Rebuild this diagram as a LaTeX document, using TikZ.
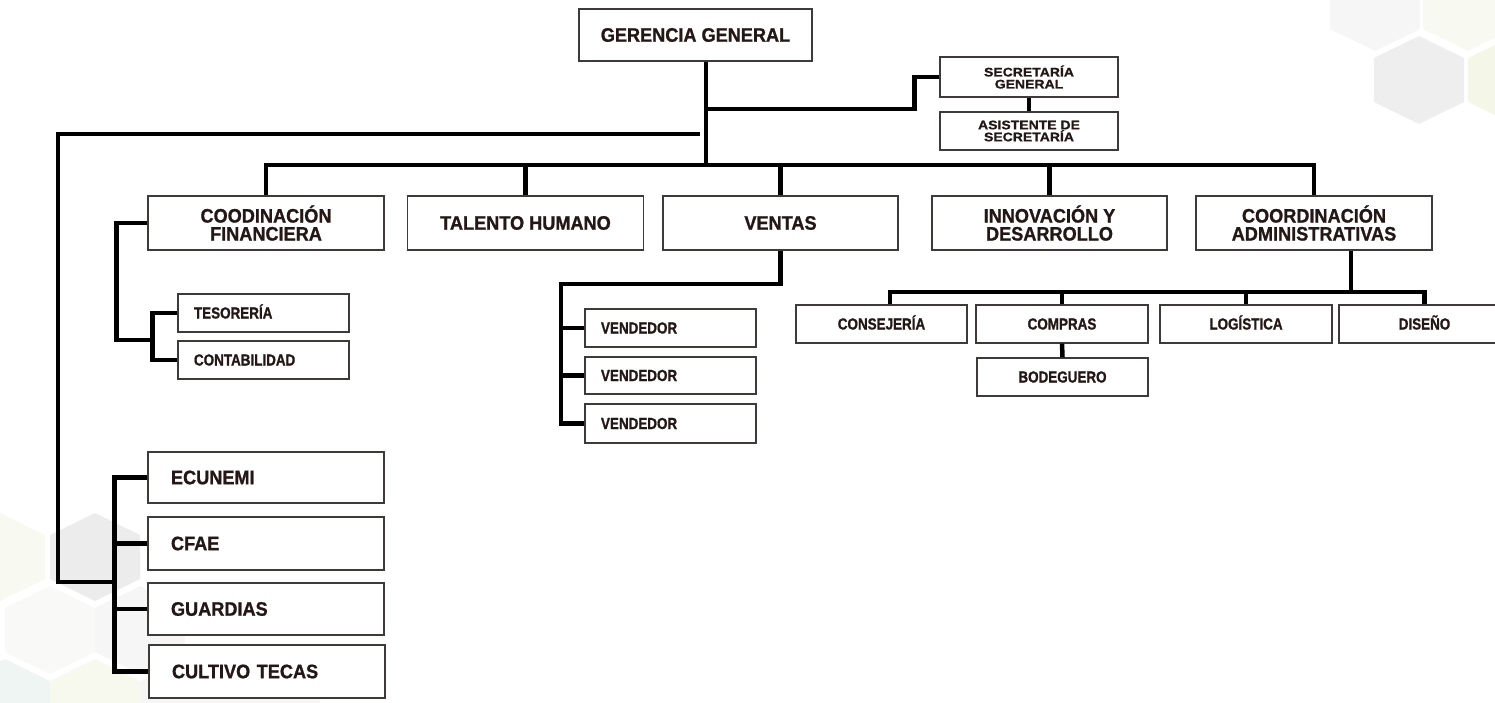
\documentclass[tikz,border=0pt]{standalone}
\usepackage{fontspec}
\setmainfont{Liberation Sans}
\newfontfamily\bigf{Liberation Sans}[FakeStretch=0.93, BoldFeatures={FakeBold=1}]
\newfontfamily\smf{Liberation Sans}[FakeStretch=0.84, BoldFeatures={FakeBold=1}]
\newfontfamily\secf{Liberation Sans}[FakeStretch=1.12, BoldFeatures={FakeBold=0.8}]
\definecolor{txt}{HTML}{231815}
\definecolor{boxc}{HTML}{3E3A39}
\definecolor{hxa}{HTML}{F6F6F6}
\definecolor{hxb}{HTML}{F8F9F1}
\definecolor{hxc}{HTML}{EEEEEE}
\definecolor{hxd}{HTML}{F4F6E7}
\definecolor{hxe}{HTML}{ECECEC}
\definecolor{hxf}{HTML}{EEF5F3}
\definecolor{hxg}{HTML}{F8F9EE}
\definecolor{hxh}{HTML}{F9F9F7}
\newcommand\myhex[3]{\fill[#3] (#1,#2-44) -- (#1+45,#2-22) -- (#1+45,#2+22) -- (#1,#2+44) -- (#1-45,#2+22) -- (#1-45,#2-22) -- cycle;}
\tikzset{
  box/.style={draw=boxc, line width=1.3pt, fill=white, text=txt, inner sep=0pt},
  bigone/.style={box, font=\bigf\bfseries\fontsize{19.5}{18}\selectfont, text height=13.4pt, text depth=0pt},
  bigtwo/.style={box, font=\bigf\bfseries\fontsize{19.5}{18}\selectfont, align=center},
  leftbig/.style={bigone, text width=190pt, align=left},
  smallc/.style={box, font=\smf\bfseries\fontsize{16}{16}\selectfont, text height=11pt, text depth=0pt},
  smalll/.style={smallc, text width=139pt, align=left},
  sectwo/.style={box, font=\secf\bfseries\fontsize{12.5}{12}\selectfont, align=center},
  conn/.style={line width=4.5pt, draw=black}
}
\begin{document}
\begin{tikzpicture}[x=1pt,y=-1pt]
\useasboundingbox (0,0) rectangle (1495,702);
\begin{scope}
\clip (0,0) rectangle (1495,702);
\myhex{1375}{7}{hxa}
\myhex{1468}{7}{hxb}
\myhex{1419}{80}{hxc}
\myhex{1513}{80}{hxd}
\myhex{0}{557}{hxb}
\myhex{95}{557}{hxe}
\myhex{50}{630}{hxh}
\myhex{140}{630}{hxa}
\myhex{5}{703}{hxf}
\myhex{95}{703}{hxg}
\myhex{185}{703}{hxa}
\myhex{275}{703}{hxa}
\end{scope}

% nodes
\node[bigone, minimum width=233pt, minimum height=52pt] (ger) at (695.5,35) {GERENCIA GENERAL};
\node[sectwo, minimum width=178pt, minimum height=40pt] (sec) at (1029,77) {SECRETARÍA\\GENERAL};
\node[sectwo, minimum width=178pt, minimum height=38pt] (asi) at (1029,131) {ASISTENTE DE\\SECRETARÍA};

\node[bigtwo, minimum width=236pt, minimum height=54pt] (cf) at (266,223) {COODINACIÓN\\FINANCIERA};
\node[bigone, minimum width=236pt, minimum height=54pt] (th) at (525.5,223) {TALENTO HUMANO};
\node[bigone, minimum width=235pt, minimum height=54pt] (ve) at (780.5,223) {VENTAS};
\node[bigtwo, minimum width=235pt, minimum height=54pt] (inn) at (1049.5,223) {INNOVACIÓN Y\\DESARROLLO};
\node[bigtwo, minimum width=236pt, minimum height=54pt] (ca) at (1314,223) {COORDINACIÓN\\ADMINISTRATIVAS};

\node[smalll, minimum width=171pt, minimum height=38pt] (tes) at (263.5,313) {TESORERÍA};
\node[smalll, minimum width=171pt, minimum height=38pt] (con) at (263.5,360) {CONTABILIDAD};

\node[smalll, minimum width=171pt, minimum height=38pt] (v1) at (670.5,328) {VENDEDOR};
\node[smalll, minimum width=171pt, minimum height=37pt] (v2) at (670.5,375.5) {VENDEDOR};
\node[smalll, minimum width=171pt, minimum height=39pt] (v3) at (670.5,423.5) {VENDEDOR};

\node[smallc, minimum width=171pt, minimum height=38pt] (cons) at (881.5,324) {CONSEJERÍA};
\node[smallc, minimum width=172pt, minimum height=38pt] (comp) at (1062,324) {COMPRAS};
\node[smallc, minimum width=172pt, minimum height=38pt] (log) at (1246,324) {LOGÍSTICA};
\node[smallc, minimum width=171pt, minimum height=38pt] (dis) at (1424.5,324) {DISEÑO};
\node[smallc, minimum width=171pt, minimum height=38pt] (bod) at (1062.5,377) {BODEGUERO};

\node[leftbig, minimum width=236pt, minimum height=51pt] (ec) at (266,477.5) {ECUNEMI};
\node[leftbig, minimum width=236pt, minimum height=53pt] (cfae) at (266,543.5) {CFAE};
\node[leftbig, minimum width=236pt, minimum height=52pt] (gua) at (266,609) {GUARDIAS};
\node[leftbig, minimum width=236pt, minimum height=53pt] (cul) at (267,671.5) {CULTIVO TECAS};

% connectors
\coordinate (trunkB) at (706,165);
\coordinate (secj) at (706,109);
\coordinate (lft) at (700,134);
\coordinate (lfc) at (58,134);
\coordinate (lfj) at (115,582);
\coordinate (cfj) at (153,340);
\coordinate (vej) at (561,284);
\coordinate (caj) at (1351,292);
\coordinate (busL) at (890,292);

\draw[conn] (ger.south -| trunkB) -- (trunkB);
\draw[conn] (secj) -| ([xshift=-25pt]sec.west) -- (sec.west);
\draw[conn] (sec.south) -- (asi.north);
\draw[conn] (lft) -- (lfc) |- (lfj);

\draw[conn] (cf.north) -- (cf.north |- trunkB) -- (ca.north |- trunkB) -- (ca.north);
\foreach \n in {th,ve,inn} {\draw[conn] (\n.north) -- (\n.north |- trunkB);}

\draw[conn] (cf.west) -- ++(-31,0) |- (cfj);
\draw[conn] (tes.west) -- ++(-25,0) |- (con.west);

\draw[conn] (ve.south) |- (vej) |- (v3.west);
\draw[conn] (v1.west) -- (v1.west -| vej);
\draw[conn] (v2.west) -- (v2.west -| vej);

\draw[conn] (ca.south -| caj) -- (caj);
\draw[conn] (cons.north -| busL) -- (busL) -- (busL -| dis.north) -- (dis.north);
\draw[conn] (comp.north) -- (comp.north |- busL);
\draw[conn] (log.north) -- (log.north |- busL);
\draw[conn] (comp.south) -- (bod.north);

\draw[conn] (ec.west) -- ++(-33,0) |- (cul.west);
\draw[conn] (cfae.west) -- ++(-33,0);
\draw[conn] (gua.west) -- ++(-33,0);
\end{tikzpicture}
\end{document}
